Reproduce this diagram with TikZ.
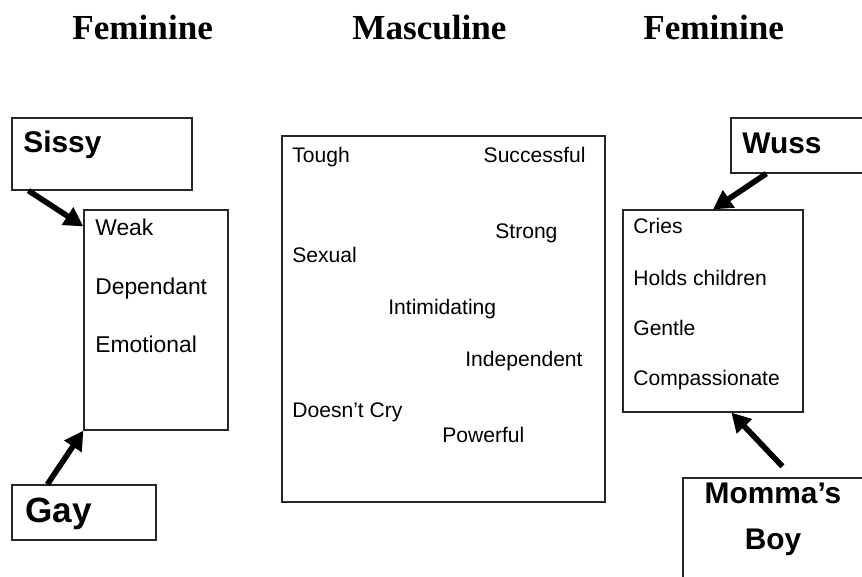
\documentclass[tikz,border=0pt]{standalone}
\usepackage{fontspec}
\setmainfont{Liberation Serif}
\newfontfamily\arialfont{Liberation Sans}
\usepackage{tikz}
\usetikzlibrary{arrows.meta, positioning, calc}

\begin{document}
\begin{tikzpicture}[x=0.02cm, y=-0.02cm,
    box/.style={draw=black!85, line width=0.7pt, inner sep=0pt},
    word/.style={anchor=base west, inner sep=0pt, font=\arialfont\fontsize{12}{14}\selectfont},
    tag/.style={anchor=base west, inner sep=0pt, font=\arialfont\bfseries\fontsize{17}{20}\selectfont},
    title/.style={anchor=base west, inner sep=0pt, font=\bfseries\fontsize{20}{24}\selectfont},
    push/.style={-{Triangle[length=0.38cm, width=0.4cm]}, line width=3.2pt, black}]
    \useasboundingbox (0,0) rectangle (862,576);
    \clip (0,0) rectangle (862,576);

    % --- Titles ---
    \node[title] (femL) at (72, 39) {Feminine};
    \node[title] (masc) at (352, 39) {Masculine};
    \node[title] (femR) at (643, 39) {Feminine};

    % --- Left side ---
    \node[box, minimum width=3.6cm, minimum height=1.44cm] (sissy) at (102, 154) {};
    \node[tag] (sissyT) at (23, 152) {Sissy};

    \node[box, minimum width=2.88cm, minimum height=4.4cm] (weak) at (156, 320) {};
    \node[word, font=\arialfont\fontsize{13}{15}\selectfont] (w1) at (95, 235) {Weak};
    \node[word, font=\arialfont\fontsize{13}{15}\selectfont] (w2) at (95, 294) {Dependant};
    \node[word, font=\arialfont\fontsize{13}{15}\selectfont] (w3) at (95, 352) {Emotional};

    \node[box, minimum width=2.88cm, minimum height=1.1cm] (gay) at (84, 512.5) {};
    \node[tag, font=\arialfont\bfseries\fontsize{20}{24}\selectfont] (gayT) at (25, 522) {Gay};

    \draw[push] ([xshift=0.34cm]sissy.south west) -- ([yshift=-0.34cm]weak.north west);
    \draw[push] ([xshift=0.72cm]gay.north west) -- (weak.south west);

    % --- Masculine box ---
    \node[box, minimum width=6.46cm, minimum height=7.32cm] (man) at (443.5, 319) {};
    \node[word] (m1) at (292, 162) {Tough};
    \node[word, anchor=base east] (m2) at (586, 162) {Successful};
    \node[word] (m3) at (495, 238) {Strong};
    \node[word] (m4) at (292, 262) {Sexual};
    \node[word] (m5) at (388, 314) {Intimidating};
    \node[word] (m6) at (465, 366) {Independent};
    \node[word] (m7) at (292, 417) {Doesn’t Cry};
    \node[word] (m8) at (442, 442) {Powerful};

    % --- Right side ---
    \node[box, minimum width=2.8cm, minimum height=1.1cm] (wuss) at (801, 145.5) {};
    \node[tag] (wussT) at (742, 153) {Wuss};

    \node[box, minimum width=3.6cm, minimum height=4.04cm] (cries) at (713, 311) {};
    \node[word] (c1) at (633, 233) {Cries};
    \node[word] (c2) at (633, 285) {Holds children};
    \node[word] (c3) at (633, 335) {Gentle};
    \node[word] (c4) at (633, 385) {Compassionate};

    \node[box, minimum width=3.8cm, minimum height=2.4cm] (momma) at (778, 538) {};
    \node[tag, anchor=base] (mommaT) at (773, 503) {Momma’s};
    \node[tag, anchor=base] (boyT) at (773, 549) {Boy};

    \draw[push] ([xshift=0.72cm]wuss.south west) -- (cries.north);
    \draw[push] ($(momma.north west)+(100,-11)$) -- ([xshift=2.18cm]cries.south west);
\end{tikzpicture}
\end{document}
